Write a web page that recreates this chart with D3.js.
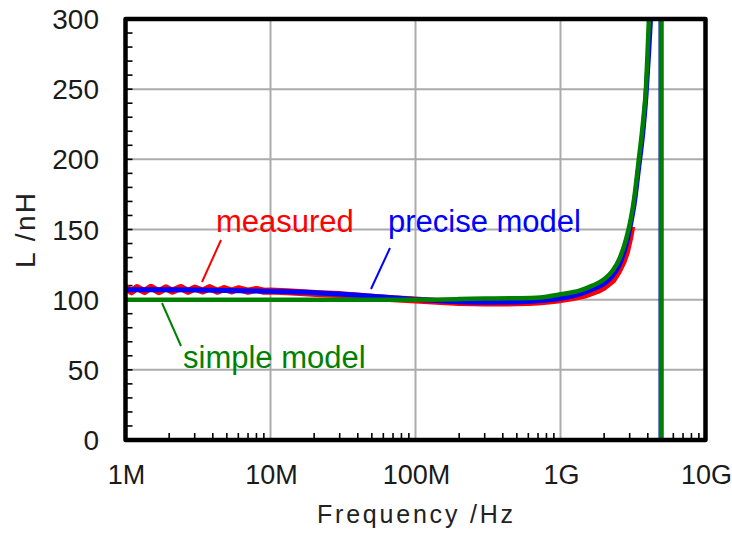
<!DOCTYPE html>
<html>
<head>
<meta charset="utf-8">
<script src="https://cdn.jsdelivr.net/npm/d3@7"></script>
<style>
  html, body { margin: 0; padding: 0; background: #fff; }
  svg { display: block; }
  text { font-family: "Liberation Sans", Arial, sans-serif; }
</style>
</head>
<body>
<svg id="chart" width="732" height="535"></svg>
<script>
// ---- data ----
const xTickValues = [1e6, 1e7, 1e8, 1e9, 1e10];
const xTickLabels = ["1M", "10M", "100M", "1G", "10G"];
const yTickValues = [0, 50, 100, 150, 200, 250, 300];

const freqMeasured = [1e6,1.1e6,1.2e6,1.35e6,1.5e6,1.7e6,1.9e6,2.1e6,2.4e6,2.7e6,3e6,3.4e6,3.8e6,4.3e6,4.8e6,5.4e6,6e6,7e6,8e6,9e6,1e7,1.3e7,1.7e7,2.2e7,3e7,4e7,5e7,7e7,1e8,1.5e8,2e8,3e8,4e8,5e8,6e8,7e8,8e8,1e9,1.2e9,1.5e9,1.8e9,2e9,2.3e9,2.5e9,2.7e9,2.85e9,3e9,3.1e9];
const Lmeasured    = [108.8,105.6,108.6,105.8,108.9,105.7,108.4,106.0,108.7,105.9,108.3,106.1,108.6,106.0,108.0,106.2,107.8,106.0,107.3,106.0,106.2,105.6,105.0,104.3,103.6,102.6,101.8,100.6,99.8,98.6,98.0,97.6,97.6,97.8,98.0,98.4,98.9,100.0,101.3,103.5,106.5,109,114,120,127,134,144,152];

const freqPrecise = [1e6,2e6,5e6,1e7,2e7,3e7,5e7,7e7,1e8,1.5e8,2e8,3e8,5e8,7e8,1e9,1.35e9,1.66e9,2e9,2.3e9,2.57e9,2.83e9,3.06e9,3.23e9,3.45e9,3.72e9,3.89e9,4e9,4.1e9,4.2e9,4.925e9,4.945e9,6e9,1e10];
const Lprecise    = [107,107,106.5,106,105,104,102.5,101.3,100.2,99.2,98.6,98.2,98.4,99.2,101,104,107.5,111.5,117.5,126,139,155,169,193,222,246,266,285,310,6000,-6000,-200,-40];

const freqSimple = [1e6,1e7,1e8,2e8,3e8,5e8,7.23e8,1e9,1.35e9,1.66e9,2e9,2.3e9,2.57e9,2.83e9,3.06e9,3.23e9,3.45e9,3.72e9,3.89e9,3.98e9,4.07e9,4.15e9,4.93e9,4.95e9,6e9,1e10];
const Lsimple    = [100,100,100,100.4,100.8,101,101.5,103.8,106.4,110,114.5,121,130,143,158,173,198,228,252,275,300,330,6000,-6000,-200,-40];

// ---- layout ----
const svg = d3.select("#chart");
const pL = 125.5, pT = 19, pR = 705.5, pB = 440;

const x = d3.scaleLog().domain([1e6, 1e10]).range([pL, pR]);
const y = d3.scaleLinear().domain([0, 300]).range([pB, pT]);

svg.append("defs").append("clipPath").attr("id", "plotClip")
  .append("rect").attr("x", pL).attr("y", pT)
  .attr("width", pR - pL).attr("height", pB - pT);

// grid
const grid = svg.append("g");
grid.selectAll("line.v").data(xTickValues.slice(1, -1)).join("line")
  .attr("class", "v")
  .attr("x1", d => x(d)).attr("x2", d => x(d))
  .attr("y1", pT).attr("y2", pB)
  .attr("stroke", "#ababab").attr("stroke-width", 2);
grid.selectAll("line.h").data(yTickValues.slice(1, -1)).join("line")
  .attr("class", "h")
  .attr("y1", d => y(d)).attr("y2", d => y(d))
  .attr("x1", pL).attr("x2", pR)
  .attr("stroke", "#ababab").attr("stroke-width", 2);

// minor ticks (inside)
const yMinor = d3.range(10, 300, 10);
svg.append("g").selectAll("line").data(yMinor).join("line")
  .attr("x1", pL).attr("x2", pL + 7)
  .attr("y1", d => y(d)).attr("y2", d => y(d))
  .attr("stroke", "#000").attr("stroke-width", 1.6);
const xMinor = [];
[1e6, 1e7, 1e8, 1e9].forEach(dec => { for (let k = 2; k <= 9; k++) xMinor.push(dec * k); });
svg.append("g").selectAll("line").data(xMinor).join("line")
  .attr("x1", d => x(d)).attr("x2", d => x(d))
  .attr("y1", pB).attr("y2", pB - 7)
  .attr("stroke", "#000").attr("stroke-width", 1.6);

// series
const plot = svg.append("g").attr("clip-path", "url(#plotClip)");
function pts(fs, ls) { return fs.map((f, i) => [f, ls[i]]); }
const lineLin = d3.line().x(d => x(d[0])).y(d => y(d[1]));
const lineMono = d3.line().x(d => x(d[0])).y(d => y(d[1])).curve(d3.curveMonotoneX);

plot.append("path").datum(pts(freqMeasured, Lmeasured))
  .attr("d", lineLin).attr("fill", "none").attr("stroke", "#ff0000")
  .attr("stroke-width", 7).attr("stroke-linejoin", "round");
plot.append("path").datum(pts(freqPrecise, Lprecise))
  .attr("d", lineMono).attr("fill", "none").attr("stroke", "#0000ff")
  .attr("stroke-width", 5).attr("stroke-linejoin", "round");
plot.append("path").datum(pts(freqSimple, Lsimple))
  .attr("d", lineMono).attr("fill", "none").attr("stroke", "#008000")
  .attr("stroke-width", 4.5).attr("stroke-linejoin", "round");

// frame
svg.append("rect").attr("x", pL).attr("y", pT)
  .attr("width", pR - pL).attr("height", pB - pT)
  .attr("fill", "none").attr("stroke", "#000").attr("stroke-width", 4.5)
  .attr("stroke-linejoin", "round");

// tick labels
svg.append("g").selectAll("text").data(yTickValues).join("text")
  .attr("x", 99).attr("y", d => y(d) + 10)
  .attr("text-anchor", "end").attr("font-size", 28).attr("fill", "#1a1a1a")
  .text(d => d);
svg.append("g").selectAll("text").data(xTickValues).join("text")
  .attr("x", (d) => x(d) + 1).attr("y", 484)
  .attr("text-anchor", "middle").attr("font-size", 27).attr("fill", "#1a1a1a")
  .text((d, i) => xTickLabels[i]);

// axis titles
svg.append("text").attr("x", 317).attr("y", 523)
  .attr("font-size", 25).attr("fill", "#222")
  .attr("textLength", 196).attr("lengthAdjust", "spacing")
  .text("Frequency /Hz");
svg.append("text")
  .attr("transform", "translate(34.5,268) rotate(-90)")
  .attr("font-size", 28).attr("fill", "#222")
  .attr("textLength", 75).attr("lengthAdjust", "spacing")
  .text("L /nH");

// annotations
const ann = [
  { text: "measured", color: "#ff0000", tx: 216, ty: 232, l: [221, 240, 202, 282] },
  { text: "precise model", color: "#0000ff", tx: 388, ty: 232, l: [390, 248, 371, 289] },
  { text: "simple model", color: "#008000", tx: 183, ty: 368, l: [162, 303, 181, 346] }
];
ann.forEach(a => {
  svg.append("line").attr("x1", a.l[0]).attr("y1", a.l[1]).attr("x2", a.l[2]).attr("y2", a.l[3])
    .attr("stroke", a.color).attr("stroke-width", 2);
  svg.append("text").attr("x", a.tx).attr("y", a.ty)
    .attr("font-size", 31).attr("fill", a.color).text(a.text);
});
</script>
</body>
</html>
